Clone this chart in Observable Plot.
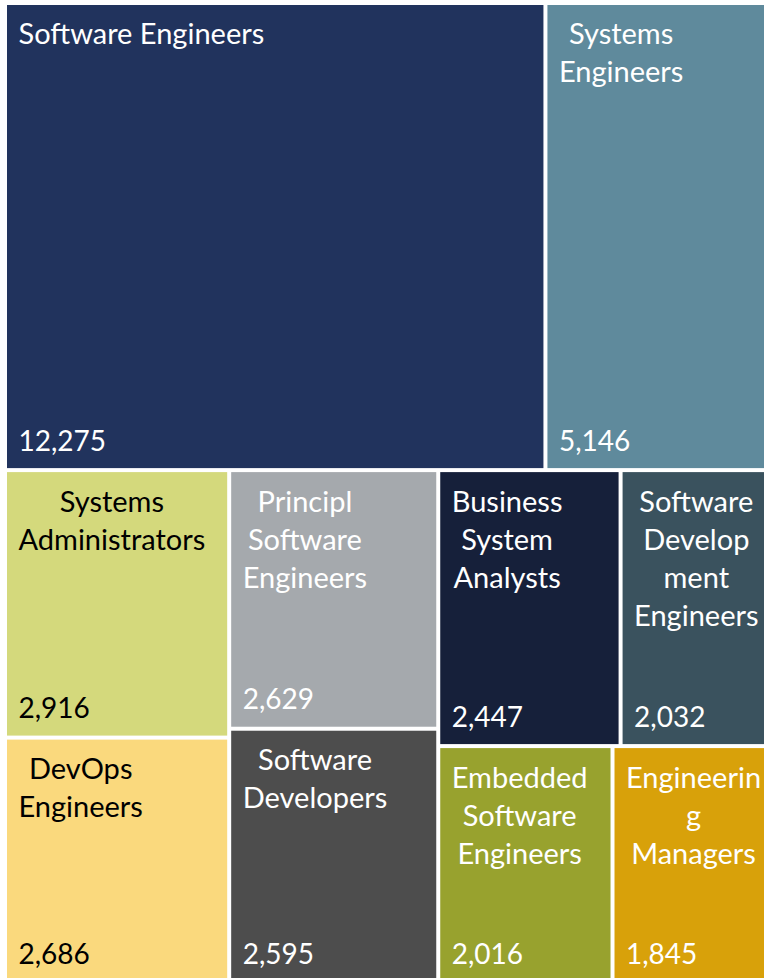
<!DOCTYPE html>
<html>
<head>
<meta charset="utf-8">
<script src="https://cdn.jsdelivr.net/npm/d3@7"></script>
<script src="https://cdn.jsdelivr.net/npm/@observablehq/plot@0.6"></script>
<style>
  html, body { margin: 0; padding: 0; background: #ffffff; overflow: hidden; }
  #chart svg { display: block; }
</style>
</head>
<body>
<div id="chart"></div>
<script>
// ---- data ----
const names = ["Software Engineers", "Systems Engineers", "Systems Administrators", "DevOps Engineers",
  "Principl Software Engineers", "Software Developers", "Business System Analysts",
  "Software Development Engineers", "Embedded Software Engineers", "Engineering Managers"];
const values = [12275, 5146, 2916, 2686, 2629, 2595, 2447, 2032, 2016, 1845];
const labels = ["Software Engineers", "Systems\nEngineers", "Systems\nAdministrators", "DevOps\nEngineers",
  "Principl\nSoftware\nEngineers", "Software\nDevelopers", "Business\nSystem\nAnalysts",
  "Software\nDevelop\nment\nEngineers", "Embedded\nSoftware\nEngineers", "Engineerin\ng\nManagers"];
const colors = ["#21335d", "#5f8a9c", "#d4d97c", "#fad97d", "#a5a9ad", "#4d4d4d",
  "#16203a", "#3a525e", "#98a22e", "#d8a10a"];
const textColors = ["#ffffff", "#ffffff", "#000000", "#000000", "#ffffff", "#ffffff",
  "#ffffff", "#ffffff", "#ffffff", "#ffffff"];

// ---- layout (grouping as in the reference) ----
const leaf = i => ({i, value: values[i]});
const tree = {tile: "slice", children: [
  {tile: "dice", children: [leaf(0), leaf(1)]},
  {tile: "dice", children: [
    {tile: "slice", children: [leaf(2), leaf(3)]},
    {tile: "slice", children: [leaf(4), leaf(5)]},
    {tile: "slice", children: [
      {tile: "dice", children: [leaf(6), leaf(7)]},
      {tile: "dice", children: [leaf(8), leaf(9)]}
    ]}
  ]}
]};

const W = 764, H = 978;
const OX = 7, OY = 5, AREA_W = 763, AREA_H = 977; // treemap extends slightly past the frame, as in the reference
const root = d3.hierarchy(tree).sum(d => d.value || 0);
d3.treemap()
  .size([AREA_W, AREA_H])
  .paddingInner(4)
  .tile((node, x0, y0, x1, y1) =>
    (node.data.tile === "slice" ? d3.treemapSlice : d3.treemapDice)(node, x0, y0, x1, y1))(root);

const FONT = "Lato";
const FS = 29;
const FSV = 28;
const ctx = document.createElement("canvas").getContext("2d");
ctx.font = `${FS}px ${FONT}`;

const cells = root.leaves().map(n => {
  const i = n.data.i;
  const lines = labels[i].split("\n");
  const maxW = d3.max(lines, l => ctx.measureText(l).width);
  return {
    name: names[i], label: labels[i], value: values[i],
    valueText: d3.format(",")(values[i]),
    fill: colors[i], ink: textColors[i],
    x1: n.x0 + OX, x2: n.x1 + OX, y1: n.y0 + OY, y2: n.y1 + OY,
    lx: n.x0 + OX + 11 + maxW / 2
  };
});

const chart = Plot.plot({
  width: W,
  height: H,
  margin: 0,
  x: {type: "identity", axis: null},
  y: {type: "identity", axis: null},
  marks: [
    Plot.rect(cells, {x1: "x1", x2: "x2", y1: "y1", y2: "y2", fill: "fill"}),
    Plot.text(cells, {
      x: "lx", y: d => d.y1 + 12, text: "label", fill: "ink",
      textAnchor: "middle", lineAnchor: "top", lineHeight: 38 / FS,
      fontSize: FS, fontFamily: FONT
    }),
    Plot.text(cells, {
      x: d => d.x1 + 11, y: d => d.y2 - 27, text: "valueText", fill: "ink",
      textAnchor: "start", lineAnchor: "middle",
      fontSize: FSV, fontFamily: FONT
    })
  ]
});
document.getElementById("chart").appendChild(chart);
</script>
</body>
</html>
